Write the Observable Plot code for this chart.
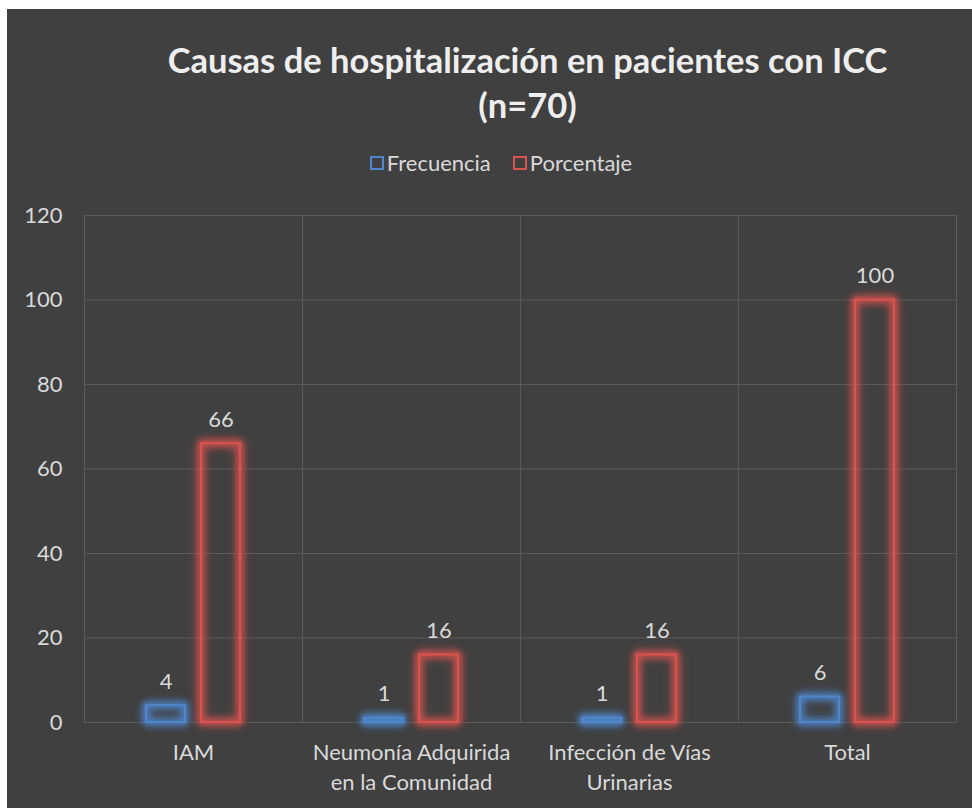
<!DOCTYPE html>
<html>
<head>
<meta charset="utf-8">
<script src="https://cdn.jsdelivr.net/npm/d3@7"></script>
<script src="https://cdn.jsdelivr.net/npm/@observablehq/plot@0.6"></script>
<style>
  html, body { margin: 0; padding: 0; background: #ffffff; }
  #frame { position: absolute; left: 7px; top: 9px; width: 965px; height: 799px; background: #404040; overflow: hidden; font-family: Lato, "Open Sans", sans-serif; }
  #title { position: absolute; left: 0; top: 28px; width: 965px; padding-left: 76px; box-sizing: border-box; text-align: center; color: #eeeeee; font-weight: bold; font-size: 34.5px; line-height: 45px; }
  #legend { position: absolute; left: 0; top: 141px; width: 965px; padding-left: 23px; box-sizing: border-box; display: flex; justify-content: center; align-items: center; color: #d9d9d9; font-size: 22px; line-height: 26px; }
  .item { display: flex; align-items: center; margin: 0 11px; }
  .sw { width: 10px; height: 10px; border: 2px solid; margin-right: 3px; }
  #chart { position: absolute; left: 0; top: 181px; }
</style>
</head>
<body>
<div id="frame">
  <div id="title">Causas de hospitalización en pacientes con ICC<br>(n=70)</div>
  <div id="legend"></div>
  <div id="chart"></div>
</div>
<script>
const categories = ["IAM", "Neumonía Adquirida\nen la Comunidad", "Infección de Vías\nUrinarias", "Total"];
const seriesNames = ["Frecuencia", "Porcentaje"];
const frecuencia = [4, 1, 1, 6];
const porcentaje = [66, 16, 16, 100];
const yTicks = [0, 20, 40, 60, 80, 100, 120];
const seriesColors = ["#4f86cc", "#d9534f"];
const glowColors = ["rgba(79,134,204,0.9)", "rgba(217,83,79,0.9)"];

const data = [];
categories.forEach((c, i) => {
  data.push({cat: c, series: seriesNames[0], value: frecuencia[i]});
  data.push({cat: c, series: seriesNames[1], value: porcentaje[i]});
});

// legend
const legend = document.getElementById("legend");
seriesNames.forEach((s, i) => {
  const it = document.createElement("div");
  it.className = "item";
  const sw = document.createElement("span");
  sw.className = "sw";
  sw.style.borderColor = seriesColors[i];
  it.appendChild(sw);
  const t = document.createElement("span");
  t.textContent = s;
  it.appendChild(t);
  legend.appendChild(it);
});

const grid = "#5a5a5a";
const plot = Plot.plot({
  width: 965,
  height: 618,
  marginLeft: 77,
  marginRight: 16,
  marginTop: 25,
  marginBottom: 86,
  style: { background: "transparent", color: "#d9d9d9", fontFamily: "Lato, 'Open Sans', sans-serif", fontSize: "22px" },
  fx: { domain: categories, padding: 0, label: null, axis: "bottom", tickSize: 0, tickPadding: 22, fontSize: 22 },
  x: { domain: seriesNames, paddingInner: 0.2545, paddingOuter: 1.109, axis: null },
  y: { domain: [0, 120], ticks: yTicks, tickSize: 0, tickPadding: 22, label: null, grid: false },
  color: { domain: seriesNames, range: seriesColors },
  marks: [
    Plot.gridY(yTicks, { stroke: grid, strokeOpacity: 1, strokeWidth: 1 }),
    Plot.frame({ stroke: grid, strokeOpacity: 1 }),
    Plot.axisY(yTicks, { tickSize: 0, tickPadding: 22, fontSize: 22, fill: "#d9d9d9", label: null }),
    Plot.barY(data, { fx: "cat", x: "series", y: "value", fill: "none", stroke: "series", strokeWidth: 2, insetLeft: 1, insetRight: 1 }),
    Plot.text(data, { fx: "cat", x: "series", y: "value", text: "value", dy: -24, fill: "#d9d9d9", fontSize: 22 })
  ]
});
document.getElementById("chart").appendChild(plot);

// soft glow on bars
d3.select(plot).selectAll("g[aria-label='bar'] rect").each(function () {
  const c = d3.select(this).attr("stroke");
  const g = glowColors[seriesColors.indexOf(c)] || c;
  d3.select(this).style("filter", `drop-shadow(0 0 3px ${g}) drop-shadow(0 0 4px ${g}) drop-shadow(0 0 2px ${g})`);
});
// x label lineHeight
d3.select(plot).selectAll("g[aria-label='fx-axis tick label'] tspan").each(function () {
  const dy = this.getAttribute("dy");
  if (dy && parseFloat(dy) > 0.9) this.setAttribute("dy", "1.36em");
});
</script>
</body>
</html>
